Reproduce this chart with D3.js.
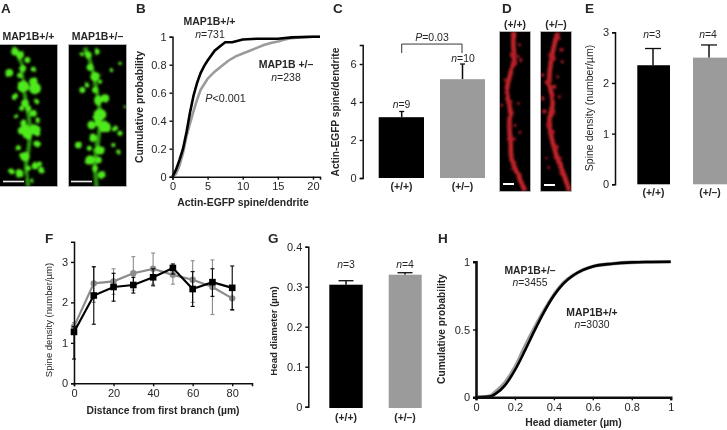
<!DOCTYPE html>
<html><head><meta charset="utf-8">
<script src="https://d3js.org/d3.v7.min.js"></script>
<style>
html,body{margin:0;padding:0;background:#fff}
svg{display:block}
text{font-family:"Liberation Sans",Arial,sans-serif;fill:#262626}
.b{font-weight:bold}
.i{font-style:italic}
</style></head><body>
<script>
// ---- data ----
const genotypes = ["(+/+)", "(+/\u2013)"];
const cumB_x_wt = [0,0.5,1,1.5,2,2.5,3,3.5,4,4.5,5,6,7,7.5,8.5,10,12,15,17,20,21];
const cumB_y_wt = [0,0.05,0.12,0.2,0.32,0.46,0.58,0.67,0.74,0.79,0.83,0.9,0.94,0.96,0.96,0.98,0.985,0.985,0.995,1,1];
const cumB_x_het = [0,0.5,1,1.5,2,2.5,3,3.5,4,4.5,5,6,7,8,9,10,11,12,13,14,15,16,17,18,20,21];
const cumB_y_het = [0,0.02,0.08,0.17,0.29,0.38,0.47,0.55,0.62,0.66,0.7,0.75,0.79,0.83,0.86,0.88,0.9,0.92,0.94,0.955,0.965,0.98,0.99,0.995,1,1];
const barC = [3.2, 5.2];
const errC = [3.5, 6.0];
const barE = [2.35, 2.5];
const errE = [2.68, 2.75];
const barG = [0.305, 0.33];
const errG = [0.315, 0.335];
const distF = [0,10,20,30,40,50,60,70,80];
const wtF = [1.27,2.17,2.38,2.43,2.62,2.85,2.33,2.5,2.36];
const wtHi = [1.4,2.88,2.72,2.62,2.83,2.95,2.76,2.83,2.9];
const wtLo = [0.6,1.46,2.03,2.23,2.41,2.7,1.9,2.15,1.82];
const hetF = [1.4,2.47,2.52,2.72,2.83,2.68,2.56,2.38,2.1];
const hetHi = [1.5,2.88,2.83,3.13,3.22,2.9,3.03,3.05,2.35];
const hetLo = [1.3,2.0,2.2,2.3,2.45,2.45,2.0,1.7,1.8];
const cumH_x = [0,0.05,0.08,0.1,0.15,0.2,0.25,0.3,0.35,0.4,0.45,0.5,0.55,0.6,0.7,0.8,0.9,1];
const cumH_wt = [0,0.003,0.01,0.025,0.09,0.2,0.34,0.49,0.63,0.75,0.84,0.9,0.94,0.965,0.985,0.995,0.998,1];
const cumH_het = [0,0.004,0.015,0.04,0.11,0.22,0.37,0.51,0.64,0.755,0.845,0.9,0.94,0.965,0.985,0.995,0.998,1];
// micrograph features, in zoom-crop units of the picture
const greenL = [[45,35,9],[60,45,9],[82,60,7],[28,98,9],[68,85,8],[60,105,7],[100,88,6],[70,140,14],[100,125,10],[105,145,14],[45,168,7],[75,190,9],[110,185,6],[65,205,6],[85,205,7],[100,220,8],[48,228,5],[112,240,6],[70,250,7],[75,268,12],[65,272,9],[105,268,13],[82,285,11],[112,280,7],[110,312,8],[55,323,6],[75,350,11],[33,394,7],[57,400,10],[85,385,6],[105,378,8],[125,390,8],[118,372,6],[97,422,5]];
const greenLAxis = [[40,20],[60,60],[70,110],[75,170],[85,220],[90,280],[85,330],[78,380],[85,440]];
const greenR = [[265,45,8],[290,35,7],[245,43,5],[270,82,8],[285,110,11],[262,135,6],[247,150,7],[300,125,5],[285,150,7],[295,180,10],[315,175,10],[300,225,15],[275,255,10],[315,262,14],[295,250,8],[280,295,9],[300,330,11],[235,315,8],[268,325,6],[270,360,11],[295,360,8],[285,385,7],[305,405,9],[345,265,7],[360,280,6],[340,315,5],[355,335,5],[375,200,3],[360,70,4],[335,90,5]];
const greenRAxis = [[255,20],[275,80],[290,150],[300,230],[295,300],[285,360],[290,440]];
const redLAxis = [[70,22],[70,60],[72,110],[60,150],[50,200],[60,250],[58,300],[62,350],[65,400],[85,450],[105,495]];
const redRAxis = [[205,22],[195,60],[185,110],[180,170],[190,230],[180,290],[190,350],[205,400],[225,450],[240,495]];
const redL = [[70,90,8],[72,115,7],[90,60,4],[92,105,4],[85,95,3],[45,165,3],[45,205,4],[60,230,5],[85,235,3],[35,240,3],[60,300,5],[75,300,3],[90,320,3],[55,340,4],[72,340,4],[75,410,3],[65,430,2]];
const redR = [[205,40,6],[190,100,7],[215,75,4],[220,110,4],[178,170,7],[195,185,5],[160,150,4],[205,155,3],[160,218,4],[190,215,5],[210,215,3],[165,258,5],[190,260,4],[180,300,7],[190,320,5],[200,365,6],[170,395,4],[212,398,4],[178,425,3],[215,440,3]];

// ---- page ----
const W = 727, H = 430;
const svg = d3.select("body").append("svg").attr("width",W).attr("height",H);
const defs = svg.append("defs");
defs.append("filter").attr("id","soft").append("feGaussianBlur").attr("stdDeviation",0.4);
const glow = defs.append("filter").attr("id","glow").attr("x","-10%").attr("y","-10%").attr("width","120%").attr("height","120%");
glow.append("feTurbulence").attr("type","fractalNoise").attr("baseFrequency",0.1).attr("numOctaves",1).attr("seed",4).attr("result","n");
glow.append("feDisplacementMap").attr("in","SourceGraphic").attr("in2","n").attr("scale",3).attr("xChannelSelector","R").attr("yChannelSelector","G").attr("result","d");
glow.append("feGaussianBlur").attr("in","d").attr("stdDeviation",0.8);
const root = svg.append("g").attr("filter","url(#soft)");
const ink = "#111", grey = "#9b9b9b";

function label(x,y,t,o={}){
  const s = root.append("text").attr("x",x).attr("y",y).attr("font-size",o.size||10.5)
    .attr("text-anchor",o.anchor||"middle");
  if(o.bold) s.attr("class","b");
  if(o.rot!=null) s.attr("transform",`rotate(${o.rot} ${x} ${y})`);
  if(Array.isArray(t)) t.forEach(p=>s.append("tspan").attr("class",p[1]?"i":null).text(p[0]));
  else s.text(t);
  return s;
}
function styleAxis(g,w){
  g.selectAll("path").attr("stroke",ink).attr("stroke-width",w||1.5);
  g.selectAll("line").attr("stroke",ink).attr("stroke-width",w||1.4);
  g.selectAll("text").attr("font-size",11).attr("font-family","'Liberation Sans',Arial,sans-serif").attr("fill","#262626");
}
function yAxis(x,scale,ticks,fmt){
  const g = root.append("g").attr("transform",`translate(${x},0)`)
    .call(d3.axisLeft(scale).tickValues(ticks).tickSizeOuter(0).tickSize(3).tickPadding(3).tickFormat(fmt||(d=>d)));
  styleAxis(g); return g;
}
function xAxis(y,scale,ticks,fmt){
  const g = root.append("g").attr("transform",`translate(0,${y})`)
    .call(d3.axisBottom(scale).tickValues(ticks).tickSizeOuter(0).tickSize(3).tickPadding(3).tickFormat(fmt||(d=>d)));
  styleAxis(g); return g;
}

// panel letters
[["A",1,13],["B",136,13],["C",333,13],["D",502,13],["E",585,13],["F",45,243],["G",268,243],["H",438,243]]
 .forEach(d=>label(d[1],d[2],d[0],{size:13.5,bold:true,anchor:"start"}));

// ---- A, D micrographs ----
function photo(x0,x1,y0,y1,u0,u1,v0,v1,axis,blobs,col,dim,w,extra){
  const px = d3.scaleLinear().domain([u0,u1]).range([x0,x1]);
  const py = d3.scaleLinear().domain([v0,v1]).range([y0,y1]);
  const id = "c"+Math.round(x0)+"_"+Math.round(y0);
  defs.append("clipPath").attr("id",id).append("rect").attr("x",x0).attr("y",y0).attr("width",x1-x0).attr("height",y1-y0);
  root.append("rect").attr("x",x0-0.5).attr("y",y0-0.5).attr("width",x1-x0+1).attr("height",y1-y0+1).attr("fill","#060404").attr("stroke","#bbb").attr("stroke-width",0.8);
  const g = root.append("g").attr("clip-path",`url(#${id})`).append("g").attr("filter","url(#glow)");
  g.append("path").attr("d",d3.line().x(d=>px(d[0])).y(d=>py(d[1])).curve(d3.curveCatmullRom)(axis))
    .attr("fill","none").attr("stroke",dim).attr("stroke-width",w);
  g.selectAll("circle").data(blobs).join("circle").attr("cx",d=>px(d[0])).attr("cy",d=>py(d[1]))
    .attr("r",d=>d[2]*extra).attr("fill",col);
  return {px,py};
}
photo(0,57,45,186,0,171,15,438,greenLAxis,greenL,"#50ea1c","#2c9410",4,0.42);
photo(69,126,45,186,207,378,15,438,greenRAxis,greenR,"#50ea1c","#2c9410",4,0.42);
photo(500,530,32,191,30,120,22,495,redLAxis,redL,"#b81c26","#c4202a",4.4,0.42);
photo(541,571,32,191,155,245,22,495,redRAxis,redR,"#b81c26","#c4202a",4.4,0.42);
[[3,24,181.5],[71,92,181.5]].forEach(d=>root.append("line").attr("x1",d[0]).attr("x2",d[1]).attr("y1",d[2]).attr("y2",d[2]).attr("stroke","#eee").attr("stroke-width",1.6));
[[503,514,184],[544,555,185]].forEach(d=>root.append("line").attr("x1",d[0]).attr("x2",d[1]).attr("y1",d[2]).attr("y2",d[2]).attr("stroke","#fff").attr("stroke-width",2));
label(28.5,40,"MAP1B+/+",{bold:true,size:10.5});
label(97.5,40,"MAP1B+/\u2013",{bold:true,size:10.5});
label(515,28,genotypes[0],{bold:true,size:10.4});
label(556,28,genotypes[1],{bold:true,size:10.4});

// ---- B ----
{
  const x = d3.scaleLinear().domain([0,21]).range([172.5,320]);
  const y = d3.scaleLinear().domain([0,1]).range([176.7,36.7]);
  const ln = (xs,ys)=>d3.line().x(i=>x(xs[i])).y(i=>y(ys[i]))(d3.range(xs.length));
  root.append("path").attr("d",ln(cumB_x_het,cumB_y_het)).attr("fill","none").attr("stroke",grey).attr("stroke-width",2.6);
  root.append("path").attr("d",ln(cumB_x_wt,cumB_y_wt)).attr("fill","none").attr("stroke","#000").attr("stroke-width",2.6);
  yAxis(172.5,y,[0,0.2,0.4,0.6,0.8,1]);
  xAxis(176.7,x,[0,5,10,15,20]);
  label(143,107,"Cumulative probability",{bold:true,size:10.4,rot:-90});
  label(243,206,"Actin-EGFP spine/dendrite",{bold:true,size:10.4});
  label(209.5,25,"MAP1B+/+",{bold:true,size:10.5});
  label(210,38,[["n",1],["=731"]],{size:10.5});
  label(286,68,"MAP1B +/\u2013",{bold:true,size:10.5});
  label(286,81,[["n",1],["=238"]],{size:10.5});
  label(225.5,102,[["P",1],["<0.001"]],{size:10.8});
}

// ---- bars ----
function bars(cfg){
  const y = d3.scaleLinear().domain(cfg.dom).range(cfg.rng);
  cfg.vals.forEach((v,i)=>{
    const [a,b] = cfg.xs[i], c=cfg.ex[i], col=i?grey:"#000";
    const eb = cfg.capw;
    root.append("line").attr("x1",c).attr("x2",c).attr("y1",y(cfg.errs[i])).attr("y2",y(v)).attr("stroke",ink).attr("stroke-width",1.5);
    root.append("line").attr("x1",c-eb).attr("x2",c+eb).attr("y1",y(cfg.errs[i])).attr("y2",y(cfg.errs[i])).attr("stroke",ink).attr("stroke-width",1.3);
    root.append("rect").attr("x",a).attr("width",b-a).attr("y",y(v)).attr("height",cfg.base-y(v)).attr("fill",col);
    label(cfg.cx[i],cfg.catY,genotypes[i],{bold:true,size:10.4});
    label(cfg.nx[i],cfg.ny[i],[["n",1],["="+cfg.ns[i]]],{size:10.4});
  });
  yAxis(cfg.ax,y,cfg.ticks,cfg.fmt);
  return y;
}
{
  const y = bars({dom:[0,7],rng:[178,45],xs:[[378.7,424],[440,485]],ex:[401.7,462.5],cx:[401.5,462.5],vals:barC,errs:errC,base:178,capw:2.5,catY:189.5,ny:[108,62],ns:[9,10],nx:[401.5,463],ax:362.7,ticks:[0,2,4,6]});
  label(339,112,"Actin-EGFP spine/dendrite",{bold:true,size:10.2,rot:-90});
  const br = d3.path();
  br.moveTo(401.7,y(6.58)); br.lineTo(401.7,y(7.05)); br.lineTo(462,y(7.05)); br.lineTo(462,y(6.58));
  root.append("path").attr("d",br.toString()).attr("fill","none").attr("stroke","#333").attr("stroke-width",1);
  label(432,41,[["P",1],["=0.03"]],{size:10.5});
}
{
  bars({dom:[0,3],rng:[184.3,32.3],xs:[[637.3,670],[693,727]],ex:[653,709],cx:[653.5,710],vals:barE,errs:errE,base:184.3,capw:8,catY:196,ny:[38,38],ns:[3,4],nx:[652,708],ax:615,ticks:[0,1,2,3]});
  label(593,108,"Spine density (number/\u00b5m)",{size:10.5,rot:-90});
}
{
  bars({dom:[0,0.4],rng:[406.7,246.7],xs:[[329.3,362.7],[388.7,421.7]],ex:[346,405],cx:[346,405],vals:barG,errs:errG,base:408,capw:7.5,catY:421,ny:[268,268],ns:[3,4],nx:[346,405],ax:308.3,ticks:[0,0.1,0.2,0.3,0.4]});
  label(277,331,"Head diameter (\u00b5m)",{bold:true,size:9.6,rot:-90});
}

// ---- F ----
{
  const x = d3.scaleLinear().domain([0,90]).range([74,252]);
  const y = d3.scaleLinear().domain([0,3.5]).range([383.3,241.7]);
  const draw = (vals,hi,lo,col,wb,shape)=>{
    const g = root.append("g");
    distF.forEach((d,i)=>{
      g.append("line").attr("x1",x(d)).attr("x2",x(d)).attr("y1",y(hi[i])).attr("y2",y(lo[i])).attr("stroke",col).attr("stroke-width",wb);
      [hi[i],lo[i]].forEach(v=>g.append("line").attr("x1",x(d)-2).attr("x2",x(d)+2).attr("y1",y(v)).attr("y2",y(v)).attr("stroke",col).attr("stroke-width",1.1));
    });
    g.append("path").attr("d",d3.line().x((d,i)=>x(distF[i])).y(d=>y(d))(vals)).attr("fill","none").attr("stroke",col).attr("stroke-width",2.2);
    if(shape==="c") g.selectAll("circle").data(vals).join("circle").attr("cx",(d,i)=>x(distF[i])).attr("cy",d=>y(d)).attr("r",3.2).attr("fill",col);
    else g.selectAll("rect").data(vals).join("rect").attr("x",(d,i)=>x(distF[i])-3.3).attr("y",d=>y(d)-3.3).attr("width",6.6).attr("height",6.6).attr("fill",col);
  };
  draw(hetF,hetHi,hetLo,"#8c8c8c",1.1,"c");
  draw(wtF,wtHi,wtLo,"#000",1.1,"s");
  yAxis(74,y,[0,1,2,3]);
  xAxis(383.3,x,[0,20,40,60,80]);
  label(52,320,"Spine density (number/\u00b5m)",{size:9.5,rot:-90});
  label(163,414,"Distance from first branch (\u00b5m)",{bold:true,size:10.3});
}

// ---- H ----
{
  const x = d3.scaleLinear().domain([0,1]).range([476,670.7]);
  const y = d3.scaleLinear().domain([0,1]).range([397.3,261.7]);
  const ln = ys=>d3.line().x((d,i)=>x(cumH_x[i])).y(d=>y(d)).curve(d3.curveMonotoneX)(ys);
  root.append("path").attr("d",ln(cumH_het)).attr("fill","none").attr("stroke",grey).attr("stroke-width",3.6);
  root.append("path").attr("d",ln(cumH_wt)).attr("fill","none").attr("stroke","#000").attr("stroke-width",2.6);
  const ga = yAxis(476,y,[0,0.5,1]); ga.selectAll("path").attr("stroke-width",2.6);
  const gb = xAxis(397.3,x,[0,0.2,0.4,0.6,0.8,1]); gb.selectAll("path").attr("stroke-width",2.6);
  label(445,329,"Cumulative probability",{bold:true,size:10.2,rot:-90});
  label(573.5,426,"Head diameter (\u00b5m)",{bold:true,size:10.4});
  label(530,274,"MAP1B+/\u2013",{bold:true,size:10.4});
  label(530,286,[["n",1],["=3455"]],{size:10.4});
  label(592,316,"MAP1B+/+",{bold:true,size:10.4});
  label(592,328,[["n",1],["=3030"]],{size:10.4});
}
</script>
</body></html>
